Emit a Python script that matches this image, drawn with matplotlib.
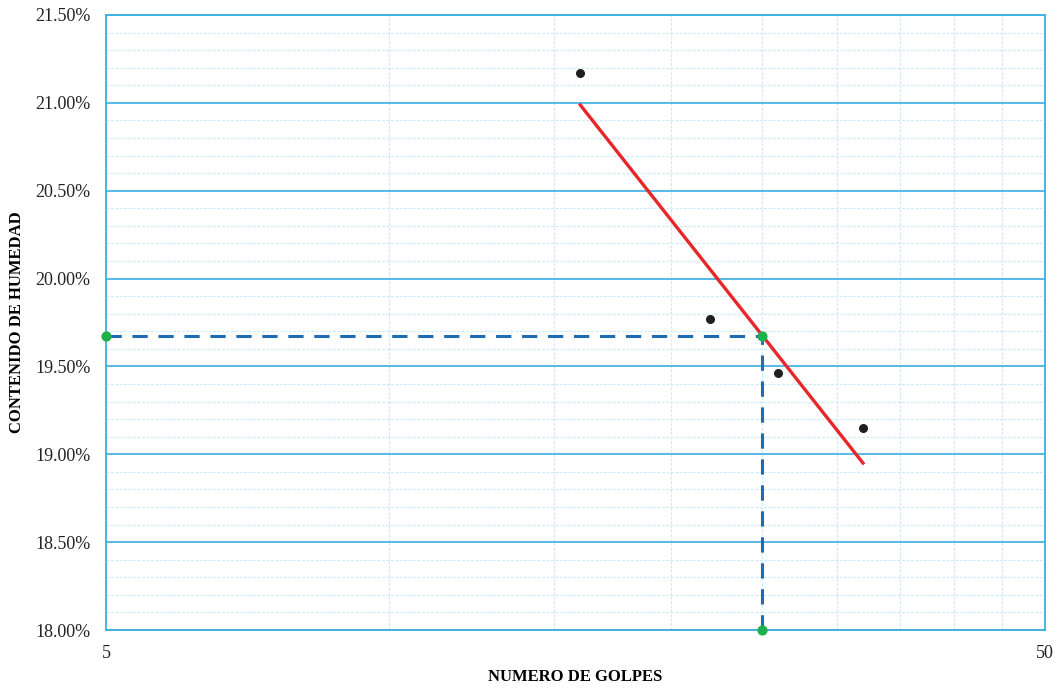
import matplotlib.pyplot as plt
import matplotlib.ticker as mticker
import numpy as np

# data
golpes = np.array([16, 22, 26, 32])
humedad = np.array([21.17, 19.77, 19.46, 19.15])   # %
n_ref = 25

x_ticks = [5, 50]
x_minor = [10, 15, 20, 25, 30, 35, 40, 45]
y_major = np.arange(18.0, 21.51, 0.5)
y_minor = np.arange(18.0, 21.51, 0.1)

plt.rcParams['font.family'] = ['Liberation Serif', 'DejaVu Serif']

# logarithmic trend line
b, a = np.polyfit(np.log10(golpes), humedad, 1)
x_fit = np.array([golpes.min(), golpes.max()])
y_fit = a + b * np.log10(x_fit)
y_ref = a + b * np.log10(n_ref)

fig = plt.figure(figsize=(10.57, 6.88), dpi=100)
ax = fig.add_axes([0.1003, 0.0843, 0.8883, 0.8939])
ax.set_xscale('log')
ax.set_xlim(5, 50)
ax.set_ylim(18.0, 21.5)

ax.xaxis.set_major_locator(mticker.FixedLocator(x_ticks))
ax.xaxis.set_major_formatter(mticker.FixedFormatter([str(t) for t in x_ticks]))
ax.xaxis.set_minor_locator(mticker.FixedLocator(x_minor))
ax.xaxis.set_minor_formatter(mticker.NullFormatter())
ax.yaxis.set_major_locator(mticker.FixedLocator(y_major))
ax.yaxis.set_minor_locator(mticker.FixedLocator(y_minor))
ax.yaxis.set_major_formatter(mticker.FuncFormatter(lambda v, p: f'{v:.2f}%'))

ax.grid(which='minor', color='#c9eaf8', linestyle=(0, (2.5, 1.5)), linewidth=0.8)
ax.grid(which='major', axis='y', color='#3aaee2', linewidth=1.2)
ax.set_axisbelow(True)
for s in ax.spines.values():
    s.set_color('#3aaee2')
    s.set_linewidth(1.3)
ax.tick_params(which='both', length=0, labelsize=13, colors='#222222')
ax.tick_params(axis='x', pad=11)
ax.tick_params(axis='y', pad=11)

ax.plot([5, n_ref], [y_ref, y_ref], color='#1e6db3', linestyle=(0, (5, 3.5)), linewidth=2.2, zorder=3)
ax.plot([n_ref, n_ref], [18.0, y_ref], color='#1e6db3', linestyle=(0, (5, 3.5)), linewidth=2.2, zorder=3)
ax.plot(x_fit, y_fit, color='#e8262a', linewidth=2.4, zorder=4)
ax.scatter(golpes, humedad, s=30, color='#1f1f1f', zorder=5)
ax.scatter([5, n_ref, n_ref], [y_ref, y_ref, 18.0], s=40, color='#1db04b', zorder=6, clip_on=False)

ax.set_xlabel('NUMERO DE GOLPES', fontsize=12, fontweight='bold')
ax.set_ylabel('CONTENIDO DE HUMEDAD', fontsize=12, fontweight='bold')
ax.xaxis.set_label_coords(0.5, -0.063)
ax.yaxis.set_label_coords(-0.086, 0.5)

fig.savefig('out.png', dpi=100)
